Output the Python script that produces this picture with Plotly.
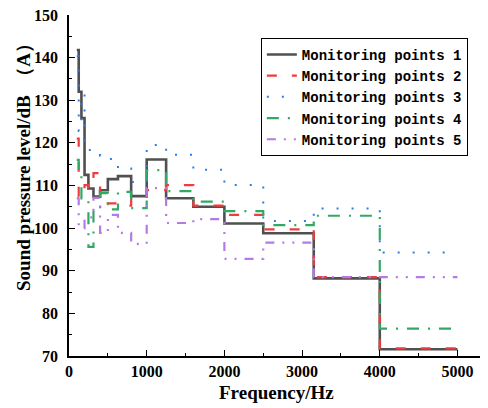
import plotly.graph_objects as go

freq = [100, 125, 160, 200, 250, 315, 400, 500, 630, 800, 1000, 1250, 1600, 2000, 2500, 3150, 4000, 5000]

p1 = [141.8, 132.0, 125.8, 112.5, 109.3, 107.4, 108.9, 111.5, 112.2, 107.5, 116.1, 107.0, 105.0, 101.1, 98.8, 88.2, 71.6, 71.6]
p2 = [121.0, 107.4, 107.3, 110.1, 109.4, 112.9, 105.6, 105.8, 105.3, 107.4, 108.9, 110.1, 105.3, 103.1, 99.7, 88.5, 71.8, 71.8]
p3 = [140.3, 122.8, 131.5, 119.3, 118.3, 117.5, 117.0, 116.2, 114.0, 110.8, 119.5, 117.2, 113.7, 110.1, 101.7, 104.6, 94.3, 94.3]
p4 = [116.0, 112.5, 107.0, 106.6, 95.6, 104.3, 108.2, 104.4, 108.5, 104.7, 113.6, 108.7, 106.2, 104.0, 100.7, 102.9, 76.4, 76.4]
p5 = [107.0, 100.0, 100.0, 102.5, 102.5, 107.1, 98.9, 103.1, 98.9, 96.3, 109.4, 101.2, 102.1, 92.8, 96.6, 88.5, 88.5, 88.5]

names = ["Monitoring points 1", "Monitoring points 2", "Monitoring points 3",
         "Monitoring points 4", "Monitoring points 5"]
series = [p1, p2, p3, p4, p5]
colors = ["#505050", "#f03c3c", "#2b7de9", "#33a866", "#b47be6"]
dashes = ["solid", "10px,15px", "2px,13px", "12px,9px,2px,9px", "9px,8px,2px,8px,2px,8px"]
widths = [2.6, 2.2, 2.0, 2.2, 2.2]

fig = go.Figure()
for n, s, c, d, w in zip(names, series, colors, dashes, widths):
    fig.add_trace(go.Scatter(x=freq, y=s, name=n, mode="lines",
                             line=dict(shape="hv", color=c, dash=d, width=w)))

tickfont = dict(family="Liberation Serif", size=16, color="black", weight="bold")

# page body has an 8px margin; figure is sized so the plot lands where the reference has it
fig.update_layout(
    width=480, height=400,
    margin=dict(l=61, r=1, t=7, b=52, autoexpand=False),
    paper_bgcolor="white", plot_bgcolor="white",
    showlegend=True,
    legend=dict(x=0.459, y=0.933, xanchor="left", yanchor="top",
                bordercolor="black", borderwidth=1, bgcolor="white",
                font=dict(family="Liberation Mono", size=14, color="black", weight="bold"),
                tracegroupgap=0, itemwidth=30),
    xaxis=dict(range=[0, 5380], tickvals=[0, 1000, 2000, 3000, 4000, 5000],
               ticks="inside", ticklen=6, tickwidth=1.2, tickcolor="black",
               minor=dict(dtick=500, ticks="inside", ticklen=3, tickcolor="black"),
               showline=True, linecolor="black", linewidth=1.5, automargin=False,
               showgrid=False, zeroline=False, tickfont=tickfont,
               ticklabeloverflow="allow"),
    yaxis=dict(range=[70, 150], tickvals=list(range(70, 151, 10)),
               ticks="inside", ticklen=6, tickwidth=1.2, tickcolor="black",
               minor=dict(dtick=5, ticks="inside", ticklen=3, tickcolor="black"),
               showline=True, linecolor="black", linewidth=1.5, automargin=False,
               showgrid=False, zeroline=False, tickfont=tickfont,
               ticklabelstandoff=6, ticklabeloverflow="allow"),
    annotations=[
        dict(text="Sound pressure level/dB\u2002\uff08A\uff09", xref="paper", yref="paper",
             x=-0.1077, y=0.569, xanchor="center", yanchor="middle", textangle=-90,
             showarrow=False,
             font=dict(family="Liberation Serif", size=19, color="black", weight="bold")),
        dict(text="Frequency/Hz", xref="paper", yref="paper",
             x=0.497, y=-0.1085, xanchor="center", yanchor="middle",
             showarrow=False,
             font=dict(family="Liberation Serif", size=19, color="black", weight="bold")),
    ],
)

fig.write_html("out.html")
